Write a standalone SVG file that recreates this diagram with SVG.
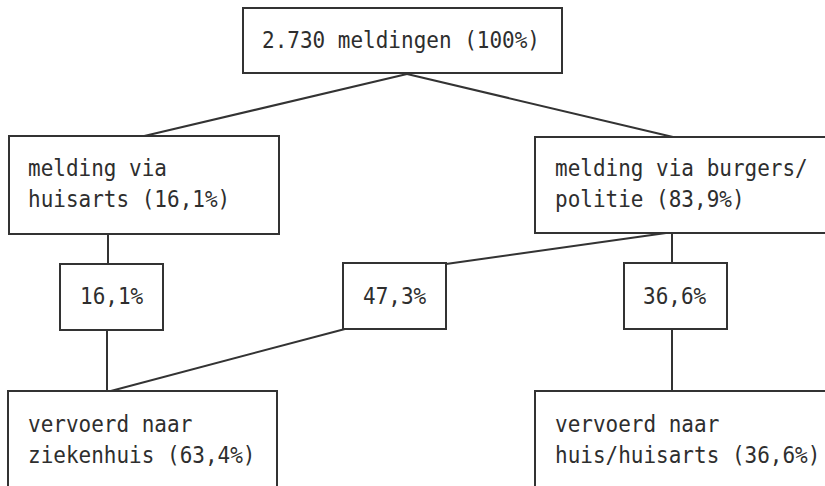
<svg xmlns="http://www.w3.org/2000/svg" width="825" height="486" viewBox="0 0 825 486">
<style>
  .box { fill: #ffffff; stroke: #333333; stroke-width: 2; }
  .conn { fill: none; stroke: #333333; stroke-width: 2; }
  text { font-family: "DejaVu Sans Mono", "Liberation Mono", monospace; font-size: 21px; fill: #2e2e2e; }
</style>
<rect width="825" height="486" fill="#ffffff"/>
<g id="connectors">
  <line class="conn" x1="407" y1="74" x2="140" y2="137"/>
  <line class="conn" x1="407" y1="74" x2="673" y2="137"/>
  <line class="conn" x1="108" y1="234" x2="108" y2="264"/>
  <line class="conn" x1="107" y1="330" x2="107" y2="392"/>
  <line class="conn" x1="666" y1="233" x2="446" y2="264"/>
  <line class="conn" x1="345" y1="329" x2="107" y2="392"/>
  <line class="conn" x1="672" y1="233" x2="672" y2="263"/>
  <line class="conn" x1="672" y1="329" x2="672" y2="392"/>
</g>
<g id="node-top">
  <rect class="box" x="243" y="8" width="319" height="65"/>
  <text transform="translate(262,48) scale(1,1.1)">2.730 meldingen (100%)</text>
</g>
<g id="node-huisarts">
  <rect class="box" x="9" y="136" width="270" height="98"/>
  <text transform="translate(28,176) scale(1,1.1)">melding via</text>
  <text transform="translate(28,207) scale(1,1.1)">huisarts (16,1%)</text>
</g>
<g id="node-burgers">
  <path class="box" d="M825,137 H535 V233 H825"/>
  <text transform="translate(555,176) scale(1,1.1)">melding via burgers/</text>
  <text transform="translate(555,207) scale(1,1.1)">politie (83,9%)</text>
</g>
<g id="node-161">
  <rect class="box" x="60" y="264" width="103" height="66"/>
  <text transform="translate(80,304) scale(1,1.1)">16,1%</text>
</g>
<g id="node-473">
  <rect class="box" x="343" y="263" width="103" height="66"/>
  <text transform="translate(363,304) scale(1,1.1)">47,3%</text>
</g>
<g id="node-366">
  <rect class="box" x="624" y="263" width="103" height="66"/>
  <text transform="translate(643,304) scale(1,1.1)">36,6%</text>
</g>
<g id="node-ziekenhuis">
  <path class="box" d="M8,486 V391 H277 V486"/>
  <text transform="translate(28,432) scale(1,1.1)">vervoerd naar</text>
  <text transform="translate(28,463) scale(1,1.1)">ziekenhuis (63,4%)</text>
</g>
<g id="node-huis">
  <path class="box" d="M825,391 H535 V486"/>
  <text transform="translate(555,432) scale(1,1.1)">vervoerd naar</text>
  <text transform="translate(555,463) scale(1,1.1)">huis/huisarts (36,6%)</text>
</g>
</svg>
